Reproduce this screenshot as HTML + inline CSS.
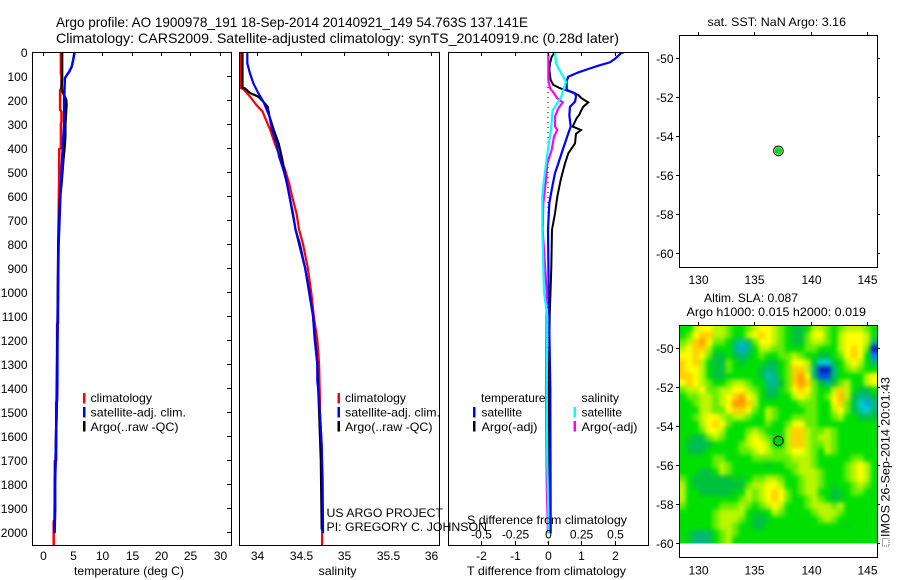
<!DOCTYPE html>
<html lang="en">
<head>
<meta charset="utf-8">
<title>Argo profile 1900978_191</title>
<style>
html,body{margin:0;padding:0;background:#fff;}
svg{display:block;}
text{font-family:"Liberation Sans",sans-serif;font-size:12px;fill:#000;}
.title{font-size:14px;}
</style>
</head>
<body>
<svg id="fig" xmlns="http://www.w3.org/2000/svg" width="900" height="580" viewBox="0 0 900 580">
<defs>
<filter id="heatBlur" filterUnits="userSpaceOnUse" x="640" y="290" width="260" height="290" color-interpolation-filters="sRGB"><feGaussianBlur stdDeviation="2.2"/></filter>
<clipPath id="heatClip"><rect x="680" y="326" width="197" height="217.5"/></clipPath>
<clipPath id="clipT"><rect x="33" y="53" width="198" height="492"/></clipPath>
<clipPath id="clipS"><rect x="240" y="53" width="199" height="492"/></clipPath>
<clipPath id="clipD"><rect x="449" y="53" width="199" height="492"/></clipPath>
</defs>
<rect x="0" y="0" width="900" height="580" fill="#fff"/>

<text class="title" x="56" y="27" textLength="472" lengthAdjust="spacingAndGlyphs">Argo profile: AO 1900978_191 18-Sep-2014 20140921_149 54.763S 137.141E</text>
<text class="title" x="56" y="43" textLength="563" lengthAdjust="spacingAndGlyphs">Climatology: CARS2009. Satellite-adjusted climatology: synTS_20140919.nc (0.28d later)</text>

<g id="heatLayer" clip-path="url(#heatClip)"><g id="heatCells" filter="url(#heatBlur)"></g></g>
<g id="marks"></g>
<g id="axes"></g>

<g>
<rect x="83" y="393" width="2.5" height="10.5" fill="#f00"/>
<rect x="83" y="407" width="2.5" height="10.5" fill="#00f"/>
<rect x="83" y="421" width="2.5" height="10.5" fill="#000"/>
<text x="90.5" y="402" textLength="61.5" lengthAdjust="spacingAndGlyphs">climatology</text>
<text x="90.5" y="416.5" textLength="95.5" lengthAdjust="spacingAndGlyphs">satellite-adj. clim.</text>
<text x="90.5" y="431" textLength="88" lengthAdjust="spacingAndGlyphs">Argo(..raw -QC)</text>
</g>
<g>
<rect x="337.5" y="393" width="2.5" height="10.5" fill="#f00"/>
<rect x="337.5" y="407" width="2.5" height="10.5" fill="#00f"/>
<rect x="337.5" y="421" width="2.5" height="10.5" fill="#000"/>
<text x="345" y="402" textLength="61" lengthAdjust="spacingAndGlyphs">climatology</text>
<text x="345" y="416.5" textLength="95" lengthAdjust="spacingAndGlyphs">satellite-adj. clim.</text>
<text x="345" y="431" textLength="87.5" lengthAdjust="spacingAndGlyphs">Argo(..raw -QC)</text>
</g>
<g>
<text x="481" y="402" textLength="64.5" lengthAdjust="spacingAndGlyphs">temperature</text>
<text x="581.5" y="402" textLength="37.5" lengthAdjust="spacingAndGlyphs">salinity</text>
<rect x="473" y="407" width="2.5" height="10.5" fill="#00f"/>
<rect x="473" y="421" width="2.5" height="10.5" fill="#000"/>
<rect x="573.5" y="407" width="2.5" height="10.5" fill="#0ff"/>
<rect x="573.5" y="421" width="2.5" height="10.5" fill="#f0f"/>
<text x="481.5" y="416.5" textLength="40.5" lengthAdjust="spacingAndGlyphs">satellite</text>
<text x="481.5" y="431" textLength="56" lengthAdjust="spacingAndGlyphs">Argo(-adj)</text>
<text x="581.5" y="416.5" textLength="40.5" lengthAdjust="spacingAndGlyphs">satellite</text>
<text x="581.5" y="431" textLength="56" lengthAdjust="spacingAndGlyphs">Argo(-adj)</text>
</g>

<text x="326.5" y="517" textLength="116.5" lengthAdjust="spacingAndGlyphs">US ARGO PROJECT</text>
<text x="326.5" y="531" textLength="160.5" lengthAdjust="spacingAndGlyphs">PI: GREGORY C. JOHNSON</text>

<text x="74" y="575" textLength="110" lengthAdjust="spacingAndGlyphs">temperature (deg C)</text>
<text x="318.5" y="575" textLength="38" lengthAdjust="spacingAndGlyphs">salinity</text>
<text x="467" y="575" textLength="159" lengthAdjust="spacingAndGlyphs">T difference from climatology</text>
<text x="467" y="524" textLength="160" lengthAdjust="spacingAndGlyphs">S difference from climatology</text>

<text x="707.5" y="26" textLength="138.5" lengthAdjust="spacingAndGlyphs">sat. SST: NaN Argo: 3.16</text>
<text x="704" y="302" textLength="94" lengthAdjust="spacingAndGlyphs">Altim. SLA: 0.087</text>
<text x="686.5" y="316" textLength="179.5" lengthAdjust="spacingAndGlyphs">Argo h1000: 0.015 h2000: 0.019</text>

<rect x="882.5" y="538.5" width="6.5" height="7.5" fill="none" stroke="#555" stroke-width="1" stroke-dasharray="1 1"/>
<text transform="translate(889.5,537) rotate(-90)" x="0" y="0" textLength="160" lengthAdjust="spacingAndGlyphs">IMOS 26-Sep-2014 20:01:43</text>
</svg>

<script>
// ---- temperature panel data ----
const tempClimDepth = [0,90,100,150,160,240,250,290,300,400,405,500,600,800,1000,1130,1135,1450,1460,1700,1705,1950,1955,2054];
const tempClimValue = [3.0,3.0,3.1,3.1,2.85,2.85,3.1,3.1,3.0,3.0,2.7,2.7,2.65,2.55,2.5,2.5,2.35,2.35,2.2,2.2,1.95,1.95,1.77,1.77];
const tempSatDepth = [0,30,60,80,100,110,150,200,300,400,500,600,800,1000,1200,1400,1500,1700,1800,1900,2000,2005];
const tempSatValue = [5.33,5.1,4.85,4.45,3.9,3.67,3.6,3.55,3.55,3.3,3.1,2.9,2.6,2.5,2.42,2.38,2.27,2.1,2.0,2.03,1.93,1.93];
const tempArgoDepth = [0,100,150,160,200,220,300,350,400,450,500,550,600,800,1000,1500,1700,1800,2000];
const tempArgoValue = [3.2,3.2,3.1,3.2,3.9,3.95,3.75,3.75,3.6,3.4,3.25,3.1,2.85,2.55,2.48,2.25,2.1,1.98,1.9];

// ---- salinity panel data ----
const salClimDepth = [0,150,155,186,221,248,283,325,380,436,491,547,602,672,741,800,900,1000,1100,1200,1300,1445,1500,1640,1780,2054];
const salClimValue = [33.81,33.81,33.84,33.916,33.99,34.06,34.1,34.15,34.2,34.26,34.32,34.365,34.4,34.45,34.48,34.525,34.58,34.62,34.65,34.69,34.71,34.72,34.72,34.74,34.745,34.745];
const salSatDepth = [0,47,89,130,171,207,269,325,380,436,491,547,602,672,741,800,900,1000,1100,1200,1300,1370,1445,1500,1640,1780,1990,2005];
const salSatValue = [33.885,33.885,33.916,33.954,34.01,34.07,34.14,34.17,34.22,34.25,34.3,34.34,34.37,34.41,34.44,34.49,34.55,34.6,34.64,34.66,34.69,34.69,34.71,34.72,34.74,34.75,34.755,34.755];
const salArgoDepth = [0,148,152,171,186,207,228,269,325,380,436,491,602,741,900,1100,1300,1500,1700,1990];
const salArgoValue = [33.83,33.83,33.86,33.916,34.01,34.07,34.12,34.14,34.19,34.245,34.28,34.31,34.37,34.44,34.55,34.64,34.69,34.71,34.73,34.74];

// ---- difference panel data ----
const diffTSatDepth = [0,5,29,43,57,71,85,103,120,158,172,186,207,228,263,311,339,367,408,464,505,561,630,741,1000,1400,2005];
const diffTSatValue = [2.29,2.19,2.0,1.86,1.51,1.21,0.91,0.61,0.56,0.56,0.81,0.84,0.81,0.66,0.64,0.68,0.61,0.54,0.44,0.31,0.21,0.13,0.04,0.0,0.02,0.07,0.08];
const diffTArgoDepth = [0,20,47,75,117,137,151,165,179,193,210,228,248,262,275,311,325,341,381,422,464,533,603,672,741,900,1100,1400,2005];
const diffTArgoValue = [0.21,0.11,0.06,0.04,0.08,0.16,0.36,0.66,0.91,1.01,1.21,1.06,0.98,0.94,0.86,0.74,0.99,0.84,0.81,0.61,0.51,0.38,0.28,0.21,0.12,0.1,0.05,0.02,0.03];
const diffSSatDepth = [0,47,75,103,124,151,186,214,242,325,394,464,533,603,741,1000,1100,1400,1700,2005];
const diffSSatValue = [0.0525,0.06,0.085,0.115,0.135,0.12,0.1,0.07,0.035,0.0225,0.0025,-0.015,-0.03,-0.0425,-0.0425,-0.03,-0.005,-0.01,-0.005,0.005];
const diffSArgoDepth = [0,117,151,172,193,210,235,269,311,325,353,408,464,533,630,741,1000,1400,1800,2005];
const diffSArgoValue = [0.0025,0.0025,0.015,0.045,0.07,0.11,0.0775,0.0525,0.0525,0.07,0.045,0.0275,-0.005,-0.015,-0.035,-0.04,-0.01,-0.015,-0.01,0.0];

// ---- tick labels ----
const depthTicks = [0,100,200,300,400,500,600,700,800,900,1000,1100,1200,1300,1400,1500,1600,1700,1800,1900,2000];
const tempTicks = [0,5,10,15,20,25,30];
const salTicks = [34,34.5,35,35.5,36];
const diffTTicks = [-2,-1,0,1,2];
const diffSTicks = [-0.5,-0.25,0,0.25,0.5];
const lonTicks = [130,135,140,145];
const latTicks = [-50,-52,-54,-56,-58,-60];
const floatLon = 137.141;
const floatLat = -54.763;

// ---- SLA grid, north to south, west to east ----
const slaGrid = [
[1,1,3,4,4,3,3,2,1,1, 2,3,4,4,3,2,1,0,0,1, 3,3,2,1,2,3,3,3,2,1],
[1,2,4,5,5,3,3,2,1,1, 3,4,5,4,3,2,1,0,0,2, 4,4,2,1,3,4,4,4,3,1],
[2,3,5,6,4,2,2,1,-.5,-1.5, -.5,2,4,4,3,2,1,0,0,2, 3,3,2,1,3,4,4,4,3,-1],
[3,4,5,5,3,1,1,1,-1,-2.5, -1,1,3,3,2,2,1,1,1,2, 2,1,1,1,3,4,5,4,2,-4],
[4,4,5,4,2,0,0,1,0,-1, 0,1,2,1,1,2,2,3,2,1, 1,0,0,1,2,4,5,4,1,-3],
[5,4,5,3,1,0,0,2,1,0, 1,1,1,0,0,1,2,4,4,3, 0,-2,-2,0,1,3,4,3,1,-1],
[5,4,4,3,1,0,0,2,1,1, 1,1,0,-1,-.5,1,2,5,5,3, -1,-4,-4,-1,1,2,3,2,1,1],
[5,5,4,3,1,0,0,1,1,1, 1,1,0,-1.5,-1,1,2,5,6,4, -.5,-3.5,-3.5,-.5,1,1,1,1,3,4],
[4,5,4,3,2,1,1,2,3,3, 2,1,1,-1,-1,0,2,5,6,5, 2,0,-1,0,2,3,1,1,3,4],
[2,3,3,4,2,2,3,3,4,4, 3,2,1,-.5,-.5,1,2,4,5,4, 2,1,1,3,5,3,1,0,0,1],
[1,2,2,3,3,2,3,4,5,6, 4,3,1,0,0,1,1,3,4,3, 2,1,2,4,5.5,3,0,-1,-1,0],
[1,1,2,3,3,2,3,4,6,6, 5,3,1,1,1,1,1,1,2,2, 2,1,1,4,5,2,0,-2,-2.5,-1],
[1,1,1,3,3,2,2,4,5,5, 4,2,1,3,2,1,1,1,1,2, 2,1,1,3,4,2,0,-1.5,-2,-.5],
[1,1,2,3,4,4,3,2,3,3, 2,1,1,3,2,1,1,2,2,2, 2,1,1,2,3,1,1,0,0,0],
[1,1,1,3,4,5,4,2,1,1, 1,1,1,2,1,1,2,4,4,2, 2,1,1,1,1,1,1,1,1,1],
[1,1,1,2,4,4,3,1,1,1, 2,3,2,1,1,1,3,5,5,3, 2,2,3,2,1,1,1,1,1,1],
[1,.5,0,0,2,3,2,1,1,1, 3,4,3,2,1,1,3,5,5,3, 2,3,3,2,1,1,1,1,1,1],
[1,0,-.5,-.5,0,1,1,1,1,2, 3,4,4,3,1,1,3,5,5,3, 2,2,3,2,1,1,1,1,1,1],
[1,0,0,0,1,1,1,1,1,2, 2,3,4,3,2,2,3,4,4,3, 2,1,3,2,1,1,1,1,1,1],
[1,1,1,1,1,2,2,1,1,1, 1,2,2,2,2,2,2,3,3,3, 2,1,1,1,1,1,2,2,1,1],
[1,1,1,1,1,2,3,2,1,1, 1,1,1,.5,1,1,2,2,3,3, 2,1,1,1,1,2,3,4,3,1],
[1,1,1,0,0,1,3,2,1,1, 1,1,1,1,1,1,1,2,3,3, 3,2,1,1,1,2,3,4,3,1],
[2,1,0,0,0,0,0,0,.5,.5, 1,2,2,3,3,2,1,1,2,3, 3,2,1,1,1,2,3,4,3,1],
[3,1,0,0,0,0,0,0,0,0, 2,3,3,4,4,3,1,1,2,3, 3,2,1,.5,1,1,2,3,2,1],
[3,1,1,0,0,0,0,0,.5,1, 3,2,3,4,5,4,2,1,2,3, 3,1,1,0,.5,1,2,2,1,1],
[3,1,1,1,1,1,1,1,1,2, 3,2,3,4,5,4,2,1,1,2, 3,2,1,0,.5,1,1,1,1,1],
[2,1,1,1,1,1,2,2,2,3, 2,1,2,3,4,3,1,1,1,2, 3,3,3,2,3,1,1,1,1,1],
[1,1,1,1,1,2,3,3,3,3, 1,.5,.5,1,3,2,1,1,1,1, 2,3,3,3,2,1,1,1,1,1],
[1,1,1,1,1,2,3,3,3,2, 1,0,0,.5,1,1,1,1,1,1, 1,2,3,2,1,1,1,1,1,1],
[1,1,1,1,1,2,3,3,2,1, 1,0,0,1,1,1,1,1,1,1, 1,1,1,1,1,.5,1,1,1,1],
[1,.5,-.5,-.5,-.5,1,2,3,2,1, 1,1,1,1,1,1,1,1,1,1, 1,1,1,1,1,1,1,1,1,1],
[1,.5,-1,-1,-.5,1,2,3,1,1, 1,1,1,1,1,1,1,1,1,1, 1,1,1,1,1,1,1,1,1,1]
];

// ---- drawing ----
const NS = 'http://www.w3.org/2000/svg';
const marks = document.getElementById('marks');
const axes = document.getElementById('axes');
const heatCells = document.getElementById('heatCells');

function yDepth(d){ return 52 + d * 0.24; }
function xTemp(v){ return 43.3 + v * 5.88; }
function xSal(v){ return 257.3 + (v - 34) * 87; }
function xDiffT(v){ return 548 + v * 33.33; }
function xDiffS(v){ return 548 + v * 133.3; }
function xLon(v){ return 698.3 + (v - 130) * 11.22; }
function yLatTop(v){ return 58.3 + (-50 - v) * 19.44; }
function yLatBottom(v){ return 348.3 + (-50 - v) * 19.44; }

function line(x1, y1, x2, y2, name){
  const el = document.createElementNS(NS, 'line');
  el.setAttribute('x1', x1); el.setAttribute('y1', y1);
  el.setAttribute('x2', x2); el.setAttribute('y2', y2);
  el.setAttribute('stroke', '#000');
  el.setAttribute('stroke-width', 1);
  el.setAttribute('shape-rendering', 'crispEdges');
  
  
  axes.appendChild(el);
}
function label(x, y, str, anchor, name){
  const el = document.createElementNS(NS, 'text');
  el.setAttribute('x', x); el.setAttribute('y', y);
  el.setAttribute('text-anchor', anchor);
  el.textContent = str;
  
  
  axes.appendChild(el);
}
function frame(x, y, w, h, name){
  const el = document.createElementNS(NS, 'rect');
  el.setAttribute('x', x + 0.5); el.setAttribute('y', y + 0.5);
  el.setAttribute('width', w); el.setAttribute('height', h);
  el.setAttribute('fill', 'none');
  el.setAttribute('stroke', '#000');
  el.setAttribute('stroke-width', 1);
  el.setAttribute('shape-rendering', 'crispEdges');
  
  
  axes.appendChild(el);
}
function series(depths, values, xf, color, width, clip, name){
  const pts = depths.map(function(d, i){ return xf(values[i]).toFixed(1) + ',' + yDepth(d).toFixed(1); }).join(' ');
  const el = document.createElementNS(NS, 'polyline');
  el.setAttribute('points', pts);
  el.setAttribute('fill', 'none');
  el.setAttribute('stroke', color);
  el.setAttribute('stroke-width', width);
  el.setAttribute('clip-path', 'url(#' + clip + ')');
  
  
  marks.appendChild(el);
}

// SLA colour scale
const colorLevels = [-4,-3,-2,-1,0,1,2,3,4,5,6];
const colorStops = [[0,32,192],[0,128,255],[0,208,208],[0,184,136],[0,192,64],[0,224,0],[100,238,0],[185,246,0],[255,255,0],[255,208,0],[255,152,0]];
function slaColor(v){
  const c = Math.max(-4, Math.min(6, v));
  const i = Math.min(colorLevels.length - 2, Math.floor(c + 4));
  const f = c - colorLevels[i];
  const a = colorStops[i], b = colorStops[i + 1];
  return 'rgb(' + [0,1,2].map(function(k){ return Math.round(a[k] + (b[k] - a[k]) * f); }).join(',') + ')';
}
const heatLeft = 679.3, heatTop = 325, heatWidth = 197.7, heatHeight = 218.5;
slaGrid.forEach(function(row, r){
  row.forEach(function(v, c){
    const cw = heatWidth / row.length, ch = heatHeight / slaGrid.length;
    let x = heatLeft + c * cw, y = heatTop + r * ch, w = cw + 0.5, h = ch + 0.5;
    if (c === 0) { x -= 14; w += 14; }
    if (c === row.length - 1) { w += 14; }
    if (r === 0) { y -= 14; h += 14; }
    if (r === slaGrid.length - 1) { h += 14; }
    const el = document.createElementNS(NS, 'rect');
    el.setAttribute('x', x.toFixed(2)); el.setAttribute('y', y.toFixed(2));
    el.setAttribute('width', w.toFixed(2)); el.setAttribute('height', h.toFixed(2));
    el.setAttribute('fill', slaColor(v));
    
    
    heatCells.appendChild(el);
  });
});

// series
series(tempClimDepth, tempClimValue, xTemp, '#f00', 2.5, 'clipT', 'temperature-climatology-line');
series(tempArgoDepth, tempArgoValue, xTemp, '#000', 2.5, 'clipT', 'temperature-argo-line');
series(tempSatDepth, tempSatValue, xTemp, '#00f', 2.5, 'clipT', 'temperature-satellite-line');
series(salClimDepth, salClimValue, xSal, '#f00', 2.2, 'clipS', 'salinity-climatology-line');
series(salArgoDepth, salArgoValue, xSal, '#000', 2.2, 'clipS', 'salinity-argo-line');
series(salSatDepth, salSatValue, xSal, '#00f', 2.2, 'clipS', 'salinity-satellite-line');

const zeroLine = document.createElementNS(NS, 'line');
zeroLine.setAttribute('x1', xDiffT(0)); zeroLine.setAttribute('x2', xDiffT(0));
zeroLine.setAttribute('y1', yDepth(0)); zeroLine.setAttribute('y2', 545);
zeroLine.setAttribute('stroke', '#000');
zeroLine.setAttribute('stroke-width', 1);
zeroLine.setAttribute('stroke-dasharray', '1 4');


marks.appendChild(zeroLine);

series(diffTArgoDepth, diffTArgoValue, xDiffT, '#000', 2, 'clipD', 'difference-t-argo-line');
series(diffTSatDepth, diffTSatValue, xDiffT, '#00f', 2.2, 'clipD', 'difference-t-satellite-line');
series(diffSArgoDepth, diffSArgoValue, xDiffS, '#f0f', 2.2, 'clipD', 'difference-s-argo-line');
series(diffSSatDepth, diffSSatValue, xDiffS, '#0ff', 2.2, 'clipD', 'difference-s-satellite-line');

// map markers
const sstOuter = document.createElementNS(NS, 'circle');
sstOuter.setAttribute('cx', xLon(floatLon)); sstOuter.setAttribute('cy', yLatTop(floatLat));
sstOuter.setAttribute('r', 4.8);
sstOuter.setAttribute('fill', '#fff');
sstOuter.setAttribute('stroke', '#000');


marks.appendChild(sstOuter);
const sstInner = document.createElementNS(NS, 'circle');
sstInner.setAttribute('cx', xLon(floatLon)); sstInner.setAttribute('cy', yLatTop(floatLat));
sstInner.setAttribute('r', 3.7);
sstInner.setAttribute('fill', '#00e000');


marks.appendChild(sstInner);
const slaMarker = document.createElementNS(NS, 'circle');
slaMarker.setAttribute('cx', xLon(floatLon)); slaMarker.setAttribute('cy', yLatBottom(floatLat));
slaMarker.setAttribute('r', 4.8);
slaMarker.setAttribute('fill', '#00d000');
slaMarker.setAttribute('stroke', '#000');


marks.appendChild(slaMarker);

// axes: profile panels
frame(32, 52, 199, 493, 'temperature-plot-frame');
frame(239, 52, 200, 493, 'salinity-plot-frame');
frame(448, 52, 200, 493, 'difference-plot-frame');
frame(679, 35, 198, 232, 'sst-map-frame');
frame(679, 325, 198, 232, 'sla-map-frame');

depthTicks.forEach(function(d){
  const y = Math.round(yDepth(d)) + 0.5;
  line(227, y, 231, y, 'depth-tick');
  label(27.5, y + 4.5, String(d), 'end', 'depth-tick-label');
});
tempTicks.forEach(function(v){
  const x = Math.round(xTemp(v)) + 0.5;
  line(x, 52, x, 56, 'temperature-tick');
  label(x, 560, String(v), 'middle', 'temperature-tick-label');
});
salTicks.forEach(function(v){
  const x = Math.round(xSal(v)) + 0.5;
  line(x, 52, x, 56, 'salinity-tick');
  label(x, 560, String(v), 'middle', 'salinity-tick-label');
});
diffTTicks.forEach(function(v){
  const x = Math.round(xDiffT(v)) + 0.5;
  line(x, 52, x, 56, 'difference-t-tick');
  label(x, 560, String(v), 'middle', 'difference-t-tick-label');
});
diffSTicks.forEach(function(v){
  const x = Math.round(xDiffS(v)) + 0.5;
  line(x, 541, x, 545, 'difference-s-tick');
  label(x, 538.5, String(v), 'middle', 'difference-s-tick-label');
});

// axes: maps
[[35, 267, 284, yLatTop, 'sst'], [325, 557, 574.5, yLatBottom, 'sla']].forEach(function(m){
  lonTicks.forEach(function(v){
    const x = Math.round(xLon(v)) + 0.5;
    line(x, m[0] - 3, x, m[0], m[4] + '-longitude-tick');
    label(x, m[2], String(v), 'middle', m[4] + '-longitude-label');
  });
  latTicks.forEach(function(v){
    const y = Math.round(m[3](v)) + 0.5;
    line(676, y, 679, y, m[4] + '-latitude-tick');
    line(877, y, 880, y, m[4] + '-latitude-tick-right');
    label(673.5, y + 4.5, String(v), 'end', m[4] + '-latitude-label');
  });
});
</script>
</body>
</html>
